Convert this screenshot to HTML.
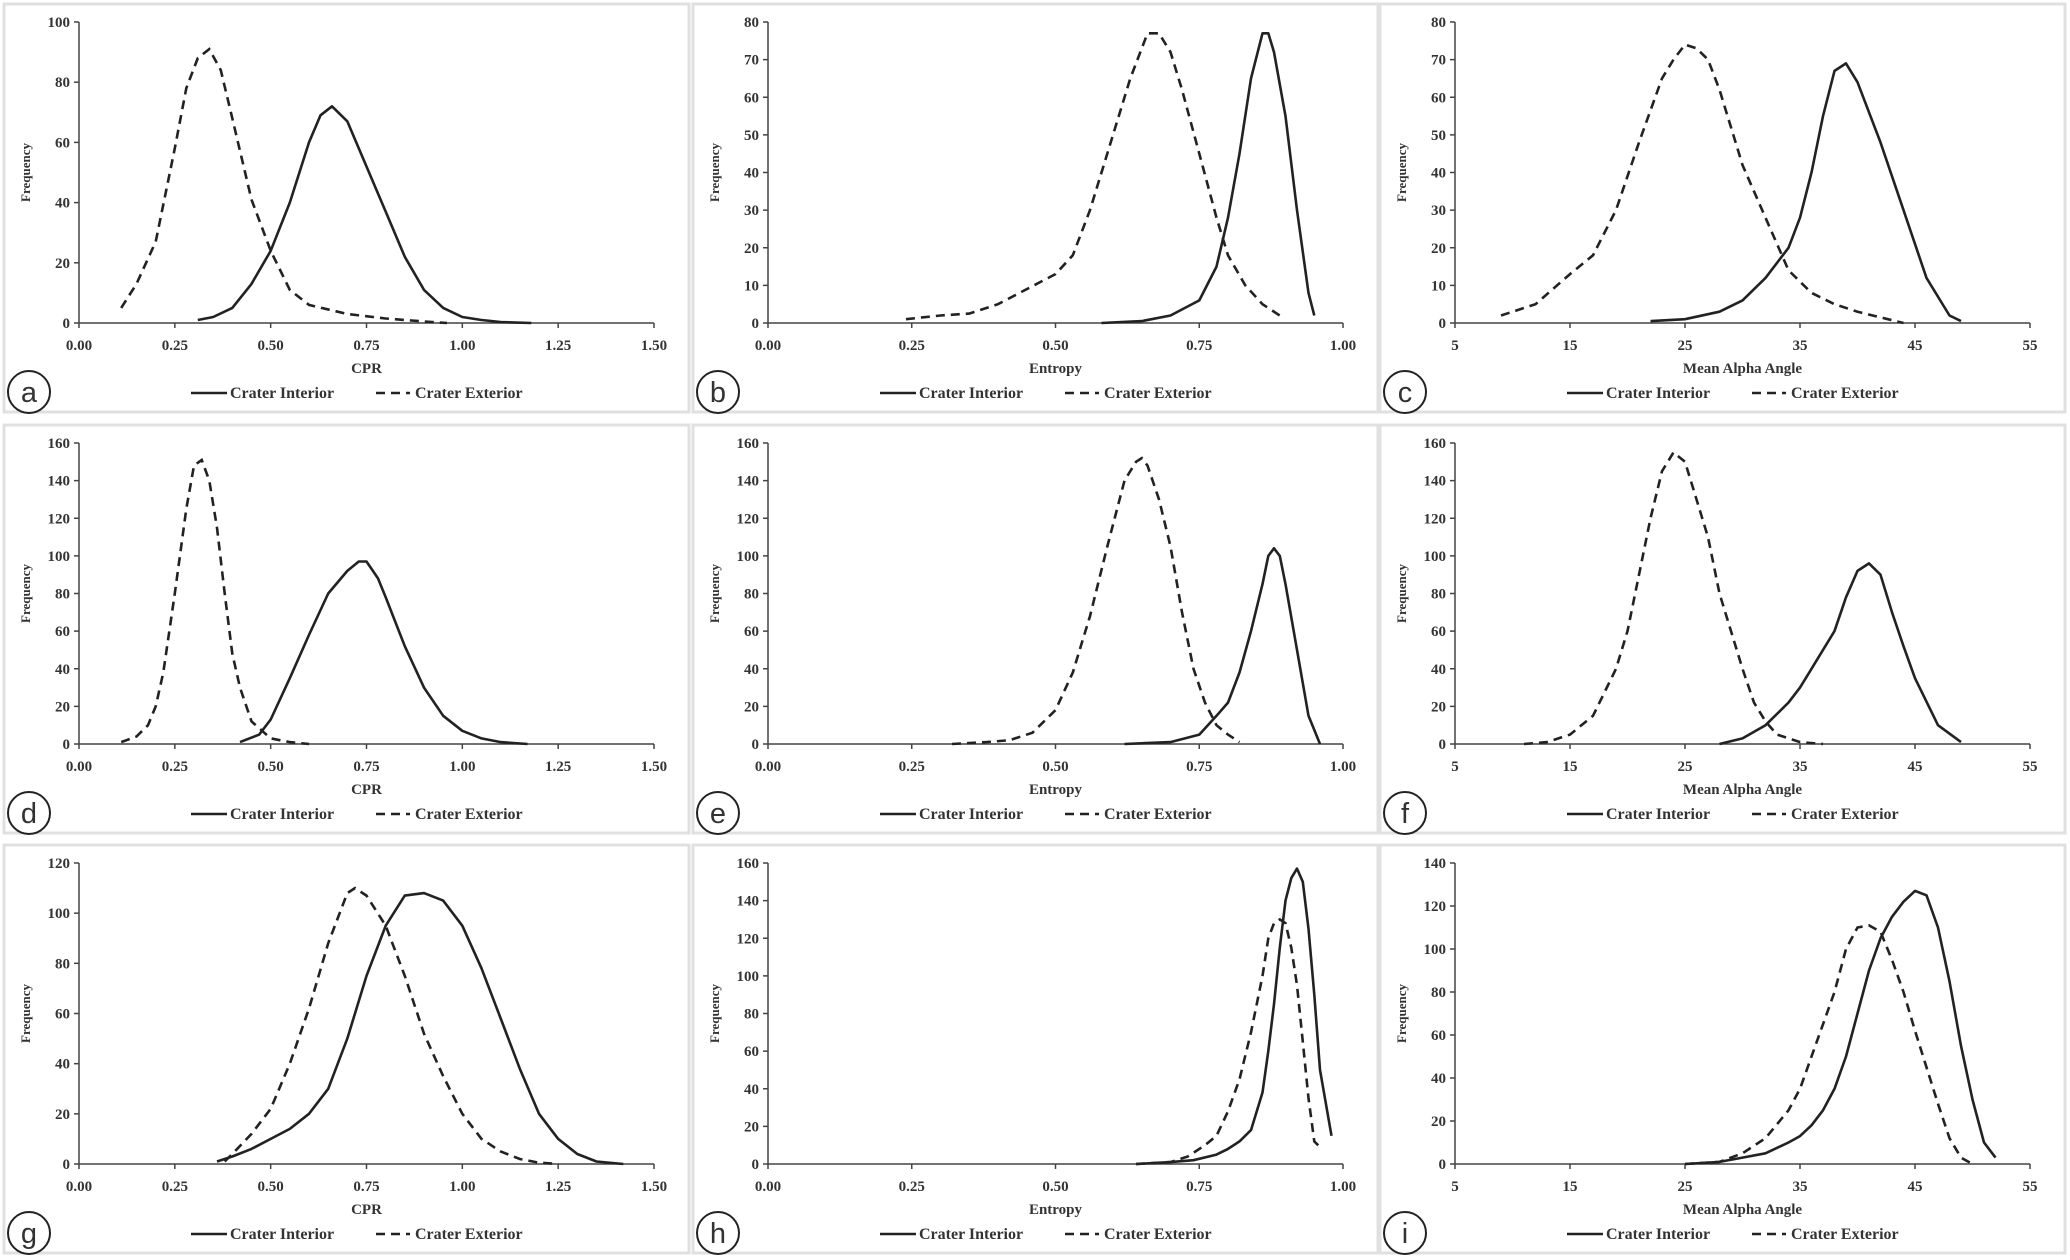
<!DOCTYPE html>
<html><head><meta charset="utf-8"><style>
html,body{margin:0;padding:0;background:#fff;}
svg{display:block;}
text{font-family:"Liberation Serif",serif;font-weight:bold;fill:#333;}
</style></head><body>
<svg id="fig" width="2070" height="1260" viewBox="0 0 2070 1260"></svg>
<script>
const panelLetters=["a","b","c","d","e","f","g","h","i"];
const axisLabels=["CPR","Entropy","Mean Alpha Angle","CPR","Entropy","Mean Alpha Angle","CPR","Entropy","Mean Alpha Angle"];
const xTicksCPR=["0.00","0.25","0.50","0.75","1.00","1.25","1.50"];
const xTicksEnt=["0.00","0.25","0.50","0.75","1.00"];
const xTicksAlpha=["5","15","25","35","45","55"];
const yMaxes=[100,80,80,160,160,160,120,160,140];
const yStep=[20,10,10,20,20,20,20,20,20];

const intX=[
[0.31,0.35,0.40,0.45,0.50,0.55,0.60,0.63,0.66,0.70,0.75,0.80,0.85,0.90,0.95,1.00,1.05,1.10,1.18],
[0.58,0.65,0.70,0.75,0.78,0.80,0.82,0.84,0.86,0.87,0.88,0.90,0.92,0.94,0.95],
[22,25,28,30,32,34,35,36,37,38,39,40,42,44,46,48,49],
[0.42,0.47,0.50,0.55,0.60,0.65,0.70,0.73,0.75,0.78,0.80,0.85,0.90,0.95,1.00,1.05,1.10,1.17],
[0.62,0.70,0.75,0.78,0.80,0.82,0.84,0.86,0.87,0.88,0.89,0.90,0.92,0.94,0.96],
[28,30,32,34,35,36,37,38,39,40,41,42,43,44,45,47,49],
[0.36,0.40,0.45,0.50,0.55,0.60,0.65,0.70,0.75,0.80,0.85,0.90,0.95,1.00,1.05,1.10,1.15,1.20,1.25,1.30,1.35,1.42],
[0.64,0.70,0.74,0.78,0.80,0.82,0.84,0.86,0.87,0.88,0.89,0.90,0.91,0.92,0.93,0.94,0.95,0.96,0.98],
[25,28,30,32,34,35,36,37,38,39,40,41,42,43,44,45,46,47,48,49,50,51,52]];
const intY=[
[1,2,5,13,24,40,60,69,72,67,52,37,22,11,5,2,1,0.3,0],
[0,0.5,2,6,15,28,45,65,77,77,72,55,30,8,2],
[0.5,1,3,6,12,20,28,40,55,67,69,64,48,30,12,2,0.5],
[1,5,13,35,58,80,92,97,97,88,78,52,30,15,7,3,1,0],
[0,1,5,15,22,38,60,85,100,104,100,85,50,15,0],
[0,3,10,22,30,40,50,60,78,92,96,90,70,52,35,10,1],
[1,3,6,10,14,20,30,50,75,95,107,108,105,95,78,58,38,20,10,4,1,0],
[0,1,2,5,8,12,18,38,60,85,115,140,152,157,150,125,90,50,15],
[0,1,3,5,10,13,18,25,35,50,70,90,105,115,122,127,125,110,85,55,30,10,3]];
const extX=[
[0.11,0.15,0.20,0.25,0.28,0.31,0.34,0.37,0.40,0.45,0.50,0.55,0.60,0.70,0.80,0.90,0.96],
[0.24,0.30,0.35,0.40,0.45,0.50,0.53,0.56,0.60,0.63,0.66,0.68,0.70,0.72,0.75,0.78,0.80,0.83,0.86,0.89],
[9,12,15,17,19,21,23,24,25,26,27,28,30,32,34,36,38,40,42,44],
[0.11,0.15,0.18,0.20,0.22,0.25,0.28,0.30,0.32,0.34,0.36,0.38,0.40,0.42,0.45,0.50,0.55,0.60],
[0.32,0.38,0.42,0.46,0.50,0.53,0.56,0.59,0.62,0.64,0.65,0.66,0.68,0.70,0.72,0.74,0.76,0.78,0.80,0.82],
[11,13,15,17,19,20,21,22,23,24,25,26,27,28,29,30,31,32,33,35,37],
[0.38,0.40,0.45,0.50,0.55,0.60,0.65,0.70,0.72,0.75,0.80,0.85,0.90,0.95,1.00,1.05,1.10,1.15,1.20,1.25],
[0.64,0.70,0.73,0.76,0.78,0.80,0.82,0.84,0.86,0.87,0.88,0.89,0.90,0.91,0.92,0.93,0.94,0.95,0.96],
[25,28,30,32,34,35,36,37,38,39,40,41,42,43,44,45,46,47,48,49,50]];
const extY=[
[5,13,27,58,78,88,91,84,68,41,24,11,6,3,1.5,0.5,0],
[1,2,2.5,5,9,13,18,30,50,65,77,77,72,62,45,28,18,10,5,2],
[2,5,13,18,30,48,65,70,74,73,70,62,42,28,14,8,5,3,1.5,0],
[1,4,10,20,38,80,125,148,151,140,115,80,48,30,12,3,1,0],
[0,1,2,6,18,38,68,105,140,150,152,148,130,105,70,40,22,10,5,1],
[0,1,5,15,40,60,90,120,145,155,150,130,110,80,60,40,22,12,5,1,0],
[1,4,12,22,40,62,88,108,110,107,95,75,52,35,20,10,5,2,0.5,0],
[0,1,4,10,15,28,45,70,100,120,128,130,128,115,95,65,35,12,9],
[0,1,5,12,25,35,50,65,80,100,110,111,108,95,80,62,45,28,12,3,0]];

const NS="http://www.w3.org/2000/svg";
const svg=document.getElementById('fig');
function mk(tag,attrs,parent){const e=document.createElementNS(NS,tag);for(const k in attrs)e.setAttribute(k,attrs[k]);parent.appendChild(e);return e;}
const colX=[4,693,1380], rowY=[4,425,845], pw=685, ph=408;
for(let p=0;p<9;p++){
  const c=p%3,r=Math.floor(p/3);
  const g=mk('g',{transform:`translate(${colX[c]},${rowY[r]})`},svg);
  
  
  const bd=mk('rect',{x:0,y:0,width:pw,height:ph,fill:'none',stroke:'#e0e0e0','stroke-width':3},g);
  
  
  const ticks = c===0?xTicksCPR:(c===1?xTicksEnt:xTicksAlpha);
  const xmin=parseFloat(ticks[0]), xmax=parseFloat(ticks[ticks.length-1]);
  const L=75,R=650,T=18,B=319;
  const sx=v=>L+(v-xmin)/(xmax-xmin)*(R-L);
  const sy=v=>B-v/yMaxes[p]*(B-T);
  const ax=mk('g',{},g);
  
  
  mk('line',{x1:L,y1:T,x2:L,y2:B,stroke:'#444','stroke-width':1.5},ax);
  mk('line',{x1:L,y1:B,x2:R,y2:B,stroke:'#444','stroke-width':1.5},ax);
  for(let v=0;v<=yMaxes[p];v+=yStep[p]){
    mk('line',{x1:L-5,y1:sy(v),x2:L,y2:sy(v),stroke:'#444','stroke-width':1.5},ax);
    const t=mk('text',{x:L-9,y:sy(v)+5,'text-anchor':'end','font-size':15},ax);
    t.textContent=v;
    
    
  }
  ticks.forEach(tk=>{
    const x=sx(parseFloat(tk));
    mk('line',{x1:x,y1:B,x2:x,y2:B+5,stroke:'#444','stroke-width':1.5},ax);
    const t=mk('text',{x:x,y:B+27,'text-anchor':'middle','font-size':15},ax);
    t.textContent=tk;
    
    
  });
  const yt=mk('text',{x:0,y:0,'text-anchor':'middle','font-size':13,transform:`translate(${26},${(T+B)/2}) rotate(-90)`},g);
  yt.textContent='Frequency';
  
  
  const xt=mk('text',{x:(L+R)/2,y:B+50,'text-anchor':'middle','font-size':15},g);
  xt.textContent=axisLabels[p];
  
  
  const pi=intX[p].map((x,i)=>sx(x).toFixed(1)+','+sy(intY[p][i]).toFixed(1)).join(' ');
  const l1=mk('polyline',{points:pi,fill:'none',stroke:'#222','stroke-width':2.6,'stroke-linejoin':'round'},g);
  
  
  const pe=extX[p].map((x,i)=>sx(x).toFixed(1)+','+sy(extY[p][i]).toFixed(1)).join(' ');
  const l2=mk('polyline',{points:pe,fill:'none',stroke:'#222','stroke-width':2.6,'stroke-dasharray':'9,6'},g);
  
  
  const lg=mk('g',{},g);
  
  
  mk('line',{x1:187,y1:389,x2:223,y2:389,stroke:'#222','stroke-width':2.6},lg);
  const t1=mk('text',{x:226,y:394,'font-size':16},lg);t1.textContent='Crater Interior';
  
  
  mk('line',{x1:372,y1:389,x2:406,y2:389,stroke:'#222','stroke-width':2.6,'stroke-dasharray':'9,6'},lg);
  const t2=mk('text',{x:411,y:394,'font-size':16},lg);t2.textContent='Crater Exterior';
  
  
  const cg=mk('g',{},g);
  
  
  mk('circle',{cx:25,cy:388,r:21,fill:'#fff',stroke:'#222','stroke-width':2},cg);
  const lt=mk('text',{x:25,y:398,'text-anchor':'middle','font-size':29,style:'font-family:"Liberation Sans",sans-serif;font-weight:normal',fill:'#222'},cg);
  lt.textContent=panelLetters[p];
}
</script>
</body></html>
